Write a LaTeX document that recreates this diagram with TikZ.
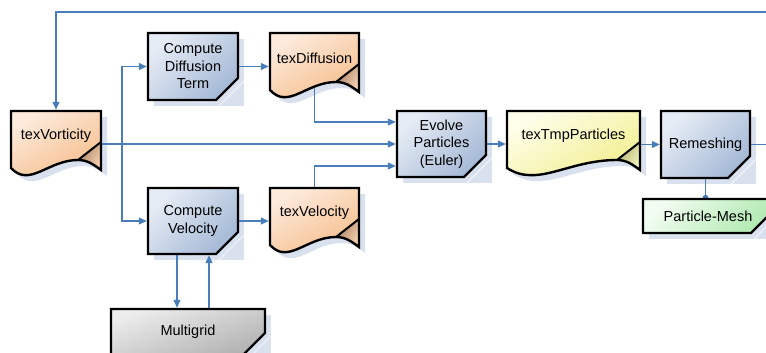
\documentclass[tikz,border=0pt]{standalone}
\usepackage{fontspec}
\setmainfont{Liberation Sans}
\usetikzlibrary{arrows.meta}
\pgfdeclarelayer{shadowlayer}
\pgfdeclarelayer{connlayer}
\pgfsetlayers{shadowlayer,connlayer,main}
\definecolor{connc}{HTML}{4A7EBB}
\definecolor{shadowc}{HTML}{D9E1EE}
\definecolor{blueL}{HTML}{E6ECF5}
\definecolor{blueD}{HTML}{A5B9D6}
\definecolor{orL}{HTML}{FCEADB}
\definecolor{orD}{HTML}{F6B983}
\definecolor{orFoldD}{HTML}{A87E64}
\definecolor{orFoldL}{HTML}{F5D2B0}
\definecolor{yeL}{HTML}{FEFEEA}
\definecolor{yeD}{HTML}{F1ED86}
\definecolor{yeFoldD}{HTML}{B0B070}
\definecolor{yeFoldL}{HTML}{F2F2BE}
\definecolor{grL}{HTML}{EDEDED}
\definecolor{grD}{HTML}{B2B2B2}
\definecolor{gnL}{HTML}{F2FDF2}
\definecolor{gnD}{HTML}{B2EAB2}
\tikzset{
  conn/.style={draw=connc, line width=1.3pt, -{Triangle[length=8pt,width=7pt]}},
  connplain/.style={draw=connc, line width=1.3pt},
  lbl/.style={font=\fontsize{14.5}{17.5}\selectfont, align=center, inner sep=0pt, outer sep=1.2pt, text=black},
  shapenode/.style={rectangle, inner sep=0pt, outer sep=1.2pt},
  fillblue/.style={top color=blueL, bottom color=blueD, shading angle=45},
  fillgray/.style={top color=grL, bottom color=grD, shading angle=20},
  fillgreen/.style={top color=gnL, bottom color=gnD, shading angle=45},
  fillorange/.style={top color=orL, bottom color=orD, shading angle=30},
  fillyellow/.style={top color=yeL, bottom color=yeD, shading angle=30},
  foldorange/.style={left color=orFoldD, right color=orFoldL, shading angle=60},
  foldyellow/.style={left color=yeFoldD, right color=yeFoldL, shading angle=60},
}
% process box: name, x1, y1, x2, y2, fill style, text
\newcommand{\procbox}[7]{%
  \begin{pgfonlayer}{shadowlayer}
    \fill[shadowc] (#2+6,#3+6) rectangle (#4+6,#5+6);
    \draw[white!55!shadowc, line width=1.2pt] (#4-19,#5+6) -- (#4+6,#5-19);
  \end{pgfonlayer}
  \path[#6, draw=black, line width=2.4pt] (#2,#3) -- (#4,#3) -- (#4,#5-22) -- (#4-22,#5) -- (#2,#5) -- cycle;
  \node[lbl, minimum width={(#4-#2)*1pt}, minimum height={(#5-#3)*1pt}] (#1) at ({(#2+#4)/2},{(#3+#5)/2}) {#7};
}
% document shape: name, x1, y1, x2, fill style, fold style, text
\newcommand{\docpath}[3]{%
  (#1,#2) -- (#3,#2) -- (#3,#2+59)
  .. controls (#3-8,#2+53) and (#3-14,#2+49) .. (#3-23,#2+49)
  .. controls ({#1+0.55*(#3-23-#1)},{#2+49}) and ({#1+0.28*(#3-23-#1)},{#2+77}) .. (#1,#2+57) -- cycle}
\newcommand{\docshape}[7]{%
  \begin{pgfonlayer}{shadowlayer}
    \fill[shadowc, shift={(6,6)}] \docpath{#2}{#3}{#4};
  \end{pgfonlayer}
  \path[#5] \docpath{#2}{#3}{#4};
  \path[#6] (#4,#3+31) -- (#4-23,#3+49) .. controls (#4-14,#3+49) and (#4-8,#3+53) .. (#4,#3+59) -- cycle;
  \draw[line width=2pt] (#4,#3+31) -- (#4-23,#3+49);
  \draw[line width=2.4pt] \docpath{#2}{#3}{#4};
  \node[shapenode, minimum width={(#4-#2)*1pt}, minimum height=57pt] (#1) at ({(#2+#4)/2},{#3+28.5}) {};
  \node[lbl] (#1t) at ({(#2+#4)/2},{#3+25}) {#7};
}
\begin{document}
\begin{tikzpicture}[x=1pt, y=-1pt, line join=miter]
\useasboundingbox (0,0) rectangle (766,353);
\clip (0,0) rectangle (766,353);

\docshape{vort}{11}{111}{101}{fillorange}{foldorange}{texVorticity}
\procbox{cdt}{148}{33}{238}{100}{fillblue}{Compute\\Diffusion\\Term}
\docshape{texd}{270}{33}{359}{fillorange}{foldorange}{texDiffusion}
\procbox{cv}{148}{188}{238}{254}{fillblue}{Compute\\Velocity}
\docshape{texv}{270}{188}{359}{fillorange}{foldorange}{texVelocity}
\procbox{mg}{111}{309}{265}{355}{fillgray}{Multigrid}
\procbox{evolve}{397}{111}{486}{177}{fillblue}{Evolve\\Particles\\(Euler)}
\docshape{tmp}{507}{111}{640}{fillyellow}{foldyellow}{texTmpParticles}
\procbox{rem}{661}{111}{750}{178}{fillblue}{Remeshing}
\procbox{pm}{643}{199}{773}{233}{fillgreen}{Particle-Mesh}

\begin{pgfonlayer}{connlayer}
  \coordinate (br) at (122,144);
  \coordinate (loopc) at (790,12);
  \draw[conn] (rem.east) -| (loopc) -| (vort.north);
  \draw[conn] (vort.east |- evolve.west) -- (evolve.west);
  \draw[conn] (br) |- (cdt.west);
  \draw[conn] (br) |- (cv.west);
  \draw[conn] (cdt.east) -- (texd.west |- cdt.east);
  \draw[conn] (cv.east) -- (texv.west |- cv.east);
  \draw[conn] (texd.center) |- ([yshift=22pt]evolve.west);
  \draw[conn] (texv.center) |- ([yshift=-22pt]evolve.west);
  \draw[conn] ([xshift=-16pt]cv.south) -- ([xshift=-16pt]cv.south |- mg.north);
  \draw[conn] ([xshift=16pt]cv.south |- mg.north) -- ([xshift=16pt]cv.south);
  \draw[conn] (evolve.east) -- (tmp.west |- evolve.east);
  \draw[conn] (tmp.east |- rem.west) -- (rem.west);
  \draw[connplain] (rem.south) -- (rem.south |- pm.north);
  \fill[connc] (rem.south |- pm.north) circle (3pt);
\end{pgfonlayer}
\end{tikzpicture}
\end{document}
